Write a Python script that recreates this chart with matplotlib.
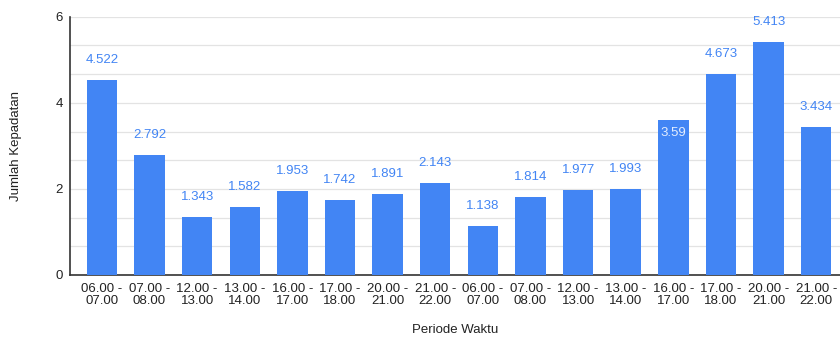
import matplotlib.pyplot as plt
import numpy as np

# Periode waktu (two days of observation) and the density per period
periods = ['06.00 -\n07.00', '07.00 -\n08.00', '12.00 -\n13.00', '13.00 -\n14.00',
           '16.00 -\n17.00', '17.00 -\n18.00', '20.00 -\n21.00', '21.00 -\n22.00',
           '06.00 -\n07.00', '07.00 -\n08.00', '12.00 -\n13.00', '13.00 -\n14.00',
           '16.00 -\n17.00', '17.00 -\n18.00', '20.00 -\n21.00', '21.00 -\n22.00']
density = [4.522, 2.792, 1.343, 1.582, 1.953, 1.742, 1.891, 2.143,
           1.138, 1.814, 1.977, 1.993, 3.59, 4.673, 5.413, 3.434]
value_labels = ['4.522', '2.792', '1.343', '1.582', '1.953', '1.742', '1.891', '2.143',
                '1.138', '1.814', '1.977', '1.993', '3.59', '4.673', '5.413', '3.434']

plt.rcParams['font.family'] = ['Liberation Sans', 'DejaVu Sans']
blue = '#4285F4'

fig = plt.figure(figsize=(8.4, 3.39), dpi=100)
ax = fig.add_axes([0.0833, 0.1888, 0.9167, 0.7619])

x = np.arange(len(density))
ax.bar(x, density, width=0.64, color=blue, zorder=3)

# value labels above each bar; the 3.59 one sits inside the bar
for i, (v, lab) in enumerate(zip(density, value_labels)):
    if lab == '3.59':
        ax.annotate(lab, (i, v), xytext=(0, -5), textcoords='offset points',
                    ha='center', va='top', fontsize=9.5, color='#e3edfe', zorder=4)
    else:
        ax.annotate(lab, (i, v), xytext=(0, 10), textcoords='offset points',
                    ha='center', va='bottom', fontsize=9.5, color=blue, zorder=4)

ax.set_xlim(-0.67, 15.5)
ax.set_ylim(0, 6)
ax.set_yticks([0, 2, 4, 6])
ax.set_yticks(np.arange(0, 6.01, 2 / 3), minor=True)
ax.set_xticks(x)
ax.set_xticklabels(periods, fontsize=9.5, color='#222222', linespacing=0.95)
ax.tick_params(axis='y', labelsize=9.5, labelcolor='#222222', length=0, pad=5, which='both')
ax.tick_params(axis='x', length=0, pad=6)

ax.grid(axis='y', which='both', color='#e3e3e3', linewidth=0.9, zorder=0)
for s in ['top', 'right']:
    ax.spines[s].set_visible(False)
ax.spines['left'].set_color('#333333')
ax.spines['bottom'].set_color('#333333')
ax.spines['left'].set_linewidth(1.2)
ax.spines['bottom'].set_linewidth(1.2)

ax.set_ylabel('Jumlah Kepadatan', fontsize=9.5, color='#222222', labelpad=24)
ax.set_xlabel('Periode Waktu', fontsize=9.5, color='#222222', labelpad=12)

fig.savefig('out.png', dpi=100)
